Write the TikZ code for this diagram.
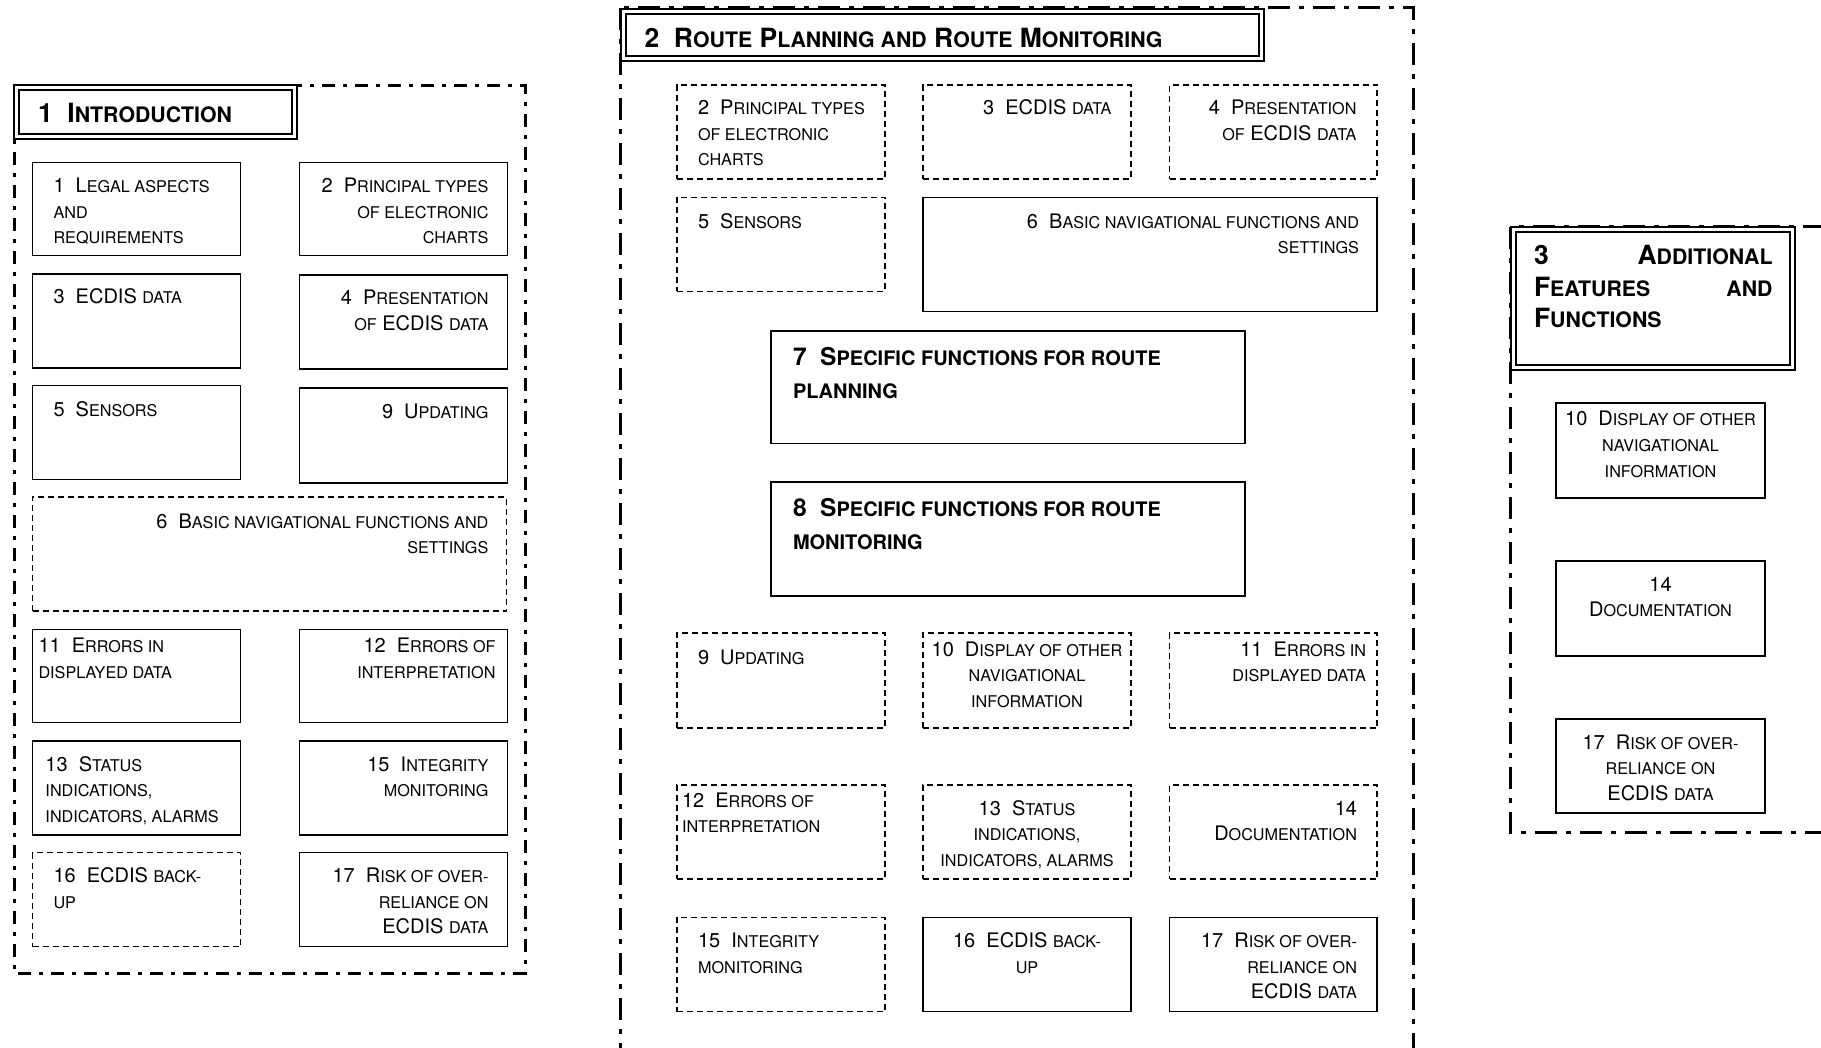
\documentclass[tikz,border=0pt]{standalone}
\usepackage{fontspec}
\setmainfont{TeX Gyre Heros}
\def\scsz{15}
\newcommand\bodyfont{\fontsize{20}{25.5}\selectfont\def\scsz{16.2}}
\newcommand\headfont{\fontsize{26.5}{31.5}\selectfont\bfseries\def\scsz{21.3}}
\newcommand\subfont{\fontsize{24.5}{32.5}\selectfont\bfseries\def\scsz{20}}
\newcommand\s[1]{{\fontsize{\scsz}{\scsz}\selectfont\MakeUppercase{#1}}}
\newcommand\AL[1]{\raggedright\leftskip=#1pt\relax}
\newcommand\AR[1]{\raggedleft\rightskip=#1pt\relax}
\newcommand\AC{\centering}
% name, style, x1, y1, x2, y2, font+alignment, first baseline offset, text
\newcommand\cell[9]{%
  \node[#2, anchor=north west, inner sep=0pt, outer sep=0pt] (#1) at (#3,#4)
  {\parbox[t][\dimexpr#6pt-#4pt\relax][t]{\dimexpr#5pt-#3pt\relax}{\vspace*{\dimexpr#8pt-22pt\relax}#7\rule{0pt}{22pt}#9}};}
\tikzset{
  solidbox/.style={draw, line width=1.5pt, fill=white},
  dashbox/.style={draw, line width=1.5pt, dash pattern=on 6pt off 4pt, fill=white},
  titlebox/.style={draw, double, double distance=3pt, line width=2pt, fill=white},
  outerA/.style={line width=3pt, dash pattern=on 13pt off 8pt on 4pt off 8pt},
  outerB/.style={line width=3pt, dash pattern=on 22pt off 9pt on 5pt off 9pt},
}
\begin{document}
\begin{tikzpicture}[x=1pt, y=-1pt]
\useasboundingbox (0,0) rectangle (1821,1048);
\fill[white] (0,0) rectangle (1821,1048);
% outer frames
\draw[outerA] (14,86) rectangle (525,973);
\draw[outerB] (620,8) rectangle (1413,1080);
\draw[outerB] (1510,227) rectangle (1850,832);
% ---------- panel 1
\cell{t1}{titlebox}{16.5}{87.5}{294.5}{136.5}{\headfont\AL{21.5}}{35.5}{1~~I\s{ntroduction}}
\cell{l1}{solidbox}{32.5}{162.6}{240.5}{255.5}{\bodyfont\AL{21}}{30}{1~~L\s{egal aspects}\\\s{and}\\\s{requirements}}
\cell{l2}{solidbox}{299.6}{162.6}{507.5}{255.5}{\bodyfont\AR{19}}{30}{2~~P\s{rincipal types}\\\s{of electronic}\\\s{charts}}
\cell{l3}{solidbox}{32.5}{274}{240.5}{368}{\bodyfont\AL{21}}{30}{3~~ECDIS \s{data}}
\cell{l4}{solidbox}{299.6}{275}{507.5}{369}{\bodyfont\AR{19}}{30}{4~~P\s{resentation}\\\s{of} ECDIS \s{data}}
\cell{l5}{solidbox}{32.5}{385.6}{240.5}{479.7}{\bodyfont\AL{21}}{31}{5~~S\s{ensors}}
\cell{l9}{solidbox}{299.6}{388}{507.5}{483}{\bodyfont\AR{19}}{31}{9~~U\s{pdating}}
\cell{l6}{dashbox}{32.5}{497}{506.4}{611}{\bodyfont\AR{18}}{31}{6~~B\s{asic navigational functions and}\\\s{settings}}
\cell{l11}{solidbox}{32.5}{629.5}{240.5}{722.4}{\bodyfont\AL{6}}{23}{11~~E\s{rrors in}\\\s{displayed data}}
\cell{l12}{solidbox}{299.6}{629.5}{507.5}{722.4}{\bodyfont\AR{12}}{23}{12~~E\s{rrors of}\\\s{interpretation}}
\cell{l13}{solidbox}{32.5}{741}{240.5}{835}{\bodyfont\AL{13}}{30}{13~~S\s{tatus}\\\s{indications,}\\\s{indicators, alarms}}
\cell{l15}{solidbox}{299.6}{741}{507.5}{835}{\bodyfont\AR{19}}{30}{15~~I\s{ntegrity}\\\s{monitoring}}
\cell{l16}{dashbox}{32.5}{852.5}{240.5}{946.5}{\bodyfont\AL{21}}{30}{16~~ECDIS \s{back-}\\\s{up}}
\cell{l17}{solidbox}{299.6}{852.5}{507.5}{946.5}{\bodyfont\AR{19}}{30}{17~~R\s{isk of over-}\\\s{reliance on}\\ECDIS \s{data}}
% ---------- panel 2
\cell{t2}{titlebox}{623.5}{11.5}{1261.5}{58.5}{\headfont\AL{21}}{36}{2~~R\s{oute} P\s{lanning and} R\s{oute} M\s{onitoring}}
\cell{m2}{dashbox}{677}{84.8}{885}{178.9}{\bodyfont\AL{21}}{30}{2~~P\s{rincipal types}\\\s{of electronic}\\\s{charts}}
\cell{m3}{dashbox}{923}{84.8}{1131}{178.9}{\bodyfont\AR{19.5}}{30}{3~~ECDIS \s{data}}
\cell{m4}{dashbox}{1169.5}{84.8}{1377}{178.9}{\bodyfont\AR{20.5}}{30}{4~~P\s{resentation}\\\s{of} ECDIS \s{data}}
\cell{m5}{dashbox}{677}{197.4}{885}{291.5}{\bodyfont\AL{21}}{31}{5~~S\s{ensors}}
\cell{m6}{solidbox}{923}{197.4}{1377}{311.3}{\bodyfont\AR{18}}{31}{6~~B\s{asic navigational functions and}\\\s{settings}}
\cell{m7}{solidbox}{771}{331}{1245}{443.6}{\subfont\AL{22}}{35}{7~~S\s{pecific functions for route}\\\s{planning}}
\cell{m8}{solidbox}{771}{482}{1245}{596}{\subfont\AL{22}}{35}{8~~S\s{pecific functions for route}\\\s{monitoring}}
\cell{m9}{dashbox}{677}{633}{885}{728}{\bodyfont\AL{21}}{31}{9~~U\s{pdating}}
\cell{m10}{dashbox}{923}{633}{1131}{728}{\bodyfont\AC}{23}{10~~D\s{isplay of other}\\\s{navigational}\\\s{information}}
\cell{m11}{dashbox}{1169.5}{633}{1377}{728}{\bodyfont\AR{11}}{23}{11~~E\s{rrors in}\\\s{displayed data}}
\cell{m12}{dashbox}{677}{785}{885}{879}{\bodyfont\AL{5}}{22}{12~~E\s{rrors of}\\\s{interpretation}}
\cell{m13}{dashbox}{923}{785}{1131}{879}{\bodyfont\AC}{30}{13~~S\s{tatus}\\\s{indications,}\\\s{indicators, alarms}}
\cell{m14}{dashbox}{1169.5}{785}{1377}{879}{\bodyfont\AR{20}}{30}{14\\D\s{ocumentation}}
\cell{m15}{dashbox}{677}{917.5}{885}{1011.6}{\bodyfont\AL{21}}{30}{15~~I\s{ntegrity}\\\s{monitoring}}
\cell{m16}{solidbox}{923}{917.5}{1131}{1011.6}{\bodyfont\AC}{30}{16~~ECDIS \s{back-}\\\s{up}}
\cell{m17}{solidbox}{1169.5}{917.5}{1377}{1011.6}{\bodyfont\AR{20}}{30}{17~~R\s{isk of over-}\\\s{reliance on}\\ECDIS \s{data}}
% ---------- panel 3
\cell{t3}{titlebox}{1513.5}{230}{1792.5}{368}{\headfont\raggedright\leftskip=20.5pt\rightskip=20pt plus 1fil\relax}{35}{3\hfill A\s{dditional}\\F\s{eatures}\hfill\s{and}\\F\s{unctions}}
\cell{r10}{solidbox}{1556}{403}{1765}{498}{\bodyfont\AC}{23}{10~~D\s{isplay of other}\\\s{navigational}\\\s{information}}
\cell{r14}{solidbox}{1556}{561}{1765}{656}{\bodyfont\AC}{30}{14\\D\s{ocumentation}}
\cell{r17}{solidbox}{1556}{719}{1765}{813}{\bodyfont\AC}{30}{17~~R\s{isk of over-}\\\s{reliance on}\\ECDIS \s{data}}
\end{tikzpicture}
\end{document}
